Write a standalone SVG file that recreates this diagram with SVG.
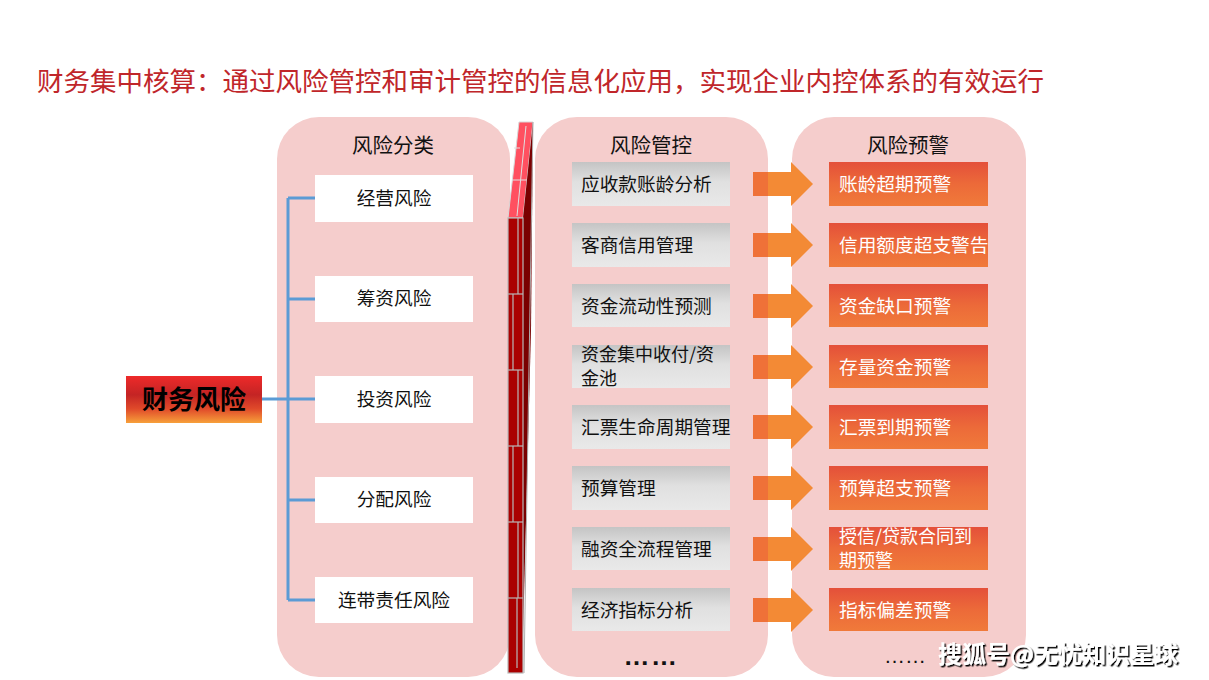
<svg xmlns="http://www.w3.org/2000/svg" width="1209" height="680" viewBox="0 0 1209 680">
<defs>
<style>
.panel{fill:#F5CDCC}
.hdr{font-family:"Noto Sans CJK SC","Microsoft YaHei",sans-serif;font-size:20.5px;fill:#111;text-anchor:middle}
.lbl{font-family:"Noto Sans CJK SC","Microsoft YaHei",sans-serif;font-size:18.7px;fill:#111}
.wlbl{font-family:"Noto Sans CJK SC","Microsoft YaHei",sans-serif;font-size:18.7px;fill:#fff}
.two{font-size:18px;line-height:1}
.wbox{fill:#fff}
.gbox{fill:url(#gGray)}
.obox{fill:url(#gOrange)}
.tree{stroke:#5B9BD5;stroke-width:3;fill:none}
.arA{fill:#EF7138}
.arB{fill:#F38A35}
.brick{stroke:#B8B8B8;stroke-width:1.2;fill:none}
</style>
<linearGradient id="gGray" x1="0" y1="0" x2="0" y2="1">
<stop offset="0" stop-color="#C4C4C4"/><stop offset="0.45" stop-color="#E0E0E0"/><stop offset="1" stop-color="#E9E9E9"/>
</linearGradient>
<linearGradient id="gOrange" x1="0" y1="0" x2="0" y2="1">
<stop offset="0" stop-color="#E4503A"/><stop offset="0.5" stop-color="#EC6A39"/><stop offset="1" stop-color="#F07A3A"/>
</linearGradient>
<linearGradient id="gMain" x1="0" y1="0" x2="0" y2="1">
<stop offset="0" stop-color="#EE2A2A"/><stop offset="0.4" stop-color="#C42424"/><stop offset="0.7" stop-color="#E04A2A"/><stop offset="1" stop-color="#F7A03A"/>
</linearGradient>
<filter id="shadow" x="-10%" y="-30%" width="120%" height="160%">
<feDropShadow dx="1.5" dy="1.5" stdDeviation="0.6" flood-color="#000" flood-opacity="1"/>
</filter>
</defs>

<rect width="1209" height="680" fill="#fff"/>

<text id="title" x="37" y="91" font-family="'Noto Sans CJK SC','Microsoft YaHei',sans-serif" font-size="26.5" fill="#C0262A">财务集中核算：通过风险管控和审计管控的信息化应用，实现企业内控体系的有效运行</text>

<!-- panels -->
<g id="panel-classify">
<rect class="panel" x="277" y="117" width="233" height="560" rx="42"/>
<text class="hdr" x="393" y="153">风险分类</text>
</g>
<g id="panel-control">
<rect class="panel" x="535" y="117" width="233" height="560" rx="42"/>
<text class="hdr" x="651" y="153">风险管控</text>
<text x="651" y="665" font-family="'Liberation Sans',sans-serif" font-size="26" font-weight="bold" fill="#111" text-anchor="middle" letter-spacing="1.5">……</text>
</g>
<g id="panel-warning">
<rect class="panel" x="792" y="117" width="234" height="560" rx="42"/>
<text class="hdr" x="908" y="153">风险预警</text>
</g>

<!-- wall -->
<g id="wall">
<polygon points="508,218 523,218 533,122 519,122" fill="#FF5060" stroke="#D8D8D8" stroke-width="1"/>
<line x1="512" y1="180" x2="527" y2="180" stroke="#E0E0E0" stroke-width="1"/>
<line x1="514" y1="148" x2="520" y2="148" stroke="#E0E0E0" stroke-width="1"/>
<line x1="526" y1="126" x2="517" y2="216" stroke="#E0E0E0" stroke-width="1"/>
<polygon points="523,218 533,122 531,330 522,673" fill="#7A0000"/>
<line x1="533" y1="122" x2="524" y2="673" stroke="#B0B0B0" stroke-width="1"/>
<rect x="508" y="218" width="15" height="455" fill="#AA0000" stroke="#B8B8B8" stroke-width="1.2"/>
<g class="brick">
<line x1="508" y1="294" x2="523" y2="294"/>
<line x1="508" y1="370" x2="523" y2="370"/>
<line x1="508" y1="446" x2="523" y2="446"/>
<line x1="508" y1="522" x2="523" y2="522"/>
<line x1="508" y1="598" x2="523" y2="598"/>
<line x1="518" y1="218" x2="518" y2="294"/>
<line x1="513" y1="294" x2="513" y2="370"/>
<line x1="518" y1="370" x2="518" y2="446"/>
<line x1="513" y1="446" x2="513" y2="522"/>
<line x1="518" y1="522" x2="518" y2="598"/>
<line x1="517" y1="598" x2="517" y2="668"/>
</g>
</g>

<!-- connectors -->
<g id="connectors">
<path class="tree" d="M262,399 H288 M288,198 V600 M288,198 H315 M288,299 H315 M288,399 H315 M288,500 H315 M288,600 H315"/>
<g id="arrows">
<g><rect class="arB" x="768" y="172" width="24" height="24"/><rect class="arA" x="753" y="172" width="15" height="24"/><polygon class="arB" points="791,162 813,184 791,206"/></g>
<g><rect class="arB" x="768" y="233" width="24" height="24"/><rect class="arA" x="753" y="233" width="15" height="24"/><polygon class="arB" points="791,223 813,245 791,267"/></g>
<g><rect class="arB" x="768" y="294" width="24" height="24"/><rect class="arA" x="753" y="294" width="15" height="24"/><polygon class="arB" points="791,284 813,306 791,328"/></g>
<g><rect class="arB" x="768" y="355" width="24" height="24"/><rect class="arA" x="753" y="355" width="15" height="24"/><polygon class="arB" points="791,345 813,367 791,389"/></g>
<g><rect class="arB" x="768" y="415" width="24" height="24"/><rect class="arA" x="753" y="415" width="15" height="24"/><polygon class="arB" points="791,405 813,427 791,449"/></g>
<g><rect class="arB" x="768" y="476" width="24" height="24"/><rect class="arA" x="753" y="476" width="15" height="24"/><polygon class="arB" points="791,466 813,488 791,510"/></g>
<g><rect class="arB" x="768" y="537" width="24" height="24"/><rect class="arA" x="753" y="537" width="15" height="24"/><polygon class="arB" points="791,527 813,549 791,571"/></g>
<g><rect class="arB" x="768" y="598" width="24" height="24"/><rect class="arA" x="753" y="598" width="15" height="24"/><polygon class="arB" points="791,588 813,610 791,632"/></g>
</g>
</g>

<!-- root -->
<g id="node-root">
<rect x="126" y="376" width="136" height="47" fill="url(#gMain)"/>
<text x="194" y="409" font-family="'Noto Sans CJK SC','Microsoft YaHei',sans-serif" font-size="26" font-weight="bold" fill="#000" text-anchor="middle">财务风险</text>
</g>

<!-- classification -->
<g id="node-c1"><rect class="wbox" x="315" y="175" width="158" height="47"/><text class="lbl" x="394" y="205" text-anchor="middle">经营风险</text></g>
<g id="node-c2"><rect class="wbox" x="315" y="276" width="158" height="46"/><text class="lbl" x="394" y="305" text-anchor="middle">筹资风险</text></g>
<g id="node-c3"><rect class="wbox" x="315" y="376" width="158" height="47"/><text class="lbl" x="394" y="406" text-anchor="middle">投资风险</text></g>
<g id="node-c4"><rect class="wbox" x="315" y="477" width="158" height="46"/><text class="lbl" x="394" y="506" text-anchor="middle">分配风险</text></g>
<g id="node-c5"><rect class="wbox" x="315" y="577" width="158" height="46"/><text class="lbl" x="394" y="607" text-anchor="middle">连带责任风险</text></g>

<!-- control -->
<g id="node-m1"><rect class="gbox" x="572" y="162" width="158" height="44"/><text class="lbl" x="581" y="191">应收款账龄分析</text></g>
<g id="node-m2"><rect class="gbox" x="572" y="223" width="158" height="44"/><text class="lbl" x="581" y="252">客商信用管理</text></g>
<g id="node-m3"><rect class="gbox" x="572" y="284" width="158" height="43"/><text class="lbl" x="581" y="313">资金流动性预测</text></g>
<g id="node-m4"><rect class="gbox" x="572" y="345" width="158" height="43"/><text class="lbl two"><tspan x="581" y="361">资金集中收付/资</tspan><tspan x="581" y="385">金池</tspan></text></g>
<g id="node-m5"><rect class="gbox" x="572" y="405" width="158" height="44"/><text class="lbl" x="581" y="434">汇票生命周期管理</text></g>
<g id="node-m6"><rect class="gbox" x="572" y="466" width="158" height="44"/><text class="lbl" x="581" y="495">预算管理</text></g>
<g id="node-m7"><rect class="gbox" x="572" y="527" width="158" height="43"/><text class="lbl" x="581" y="556">融资全流程管理</text></g>
<g id="node-m8"><rect class="gbox" x="572" y="588" width="158" height="43"/><text class="lbl" x="581" y="617">经济指标分析</text></g>

<!-- warning -->
<g id="node-w1"><rect class="obox" x="829" y="162" width="159" height="44"/><text class="wlbl" x="839" y="191">账龄超期预警</text></g>
<g id="node-w2"><rect class="obox" x="829" y="223" width="159" height="44"/><text class="wlbl" x="839" y="252">信用额度超支警告</text></g>
<g id="node-w3"><rect class="obox" x="829" y="284" width="159" height="43"/><text class="wlbl" x="839" y="313">资金缺口预警</text></g>
<g id="node-w4"><rect class="obox" x="829" y="345" width="159" height="43"/><text class="wlbl" x="839" y="374">存量资金预警</text></g>
<g id="node-w5"><rect class="obox" x="829" y="405" width="159" height="44"/><text class="wlbl" x="839" y="434">汇票到期预警</text></g>
<g id="node-w6"><rect class="obox" x="829" y="466" width="159" height="44"/><text class="wlbl" x="839" y="495">预算超支预警</text></g>
<g id="node-w7"><rect class="obox" x="829" y="527" width="159" height="43"/><text class="wlbl two"><tspan x="839" y="543">授信/贷款合同到</tspan><tspan x="839" y="567">期预警</tspan></text></g>
<g id="node-w8"><rect class="obox" x="829" y="588" width="159" height="43"/><text class="wlbl" x="839" y="617">指标偏差预警</text></g>

<text x="884" y="663" font-family="'Liberation Sans',sans-serif" font-size="21" fill="#111">……</text>
<text x="938" y="663" font-family="'Noto Sans CJK SC','Microsoft YaHei',sans-serif" font-size="24" font-weight="bold" fill="#fff" filter="url(#shadow)">搜狐号@无忧知识星球</text>
</svg>
